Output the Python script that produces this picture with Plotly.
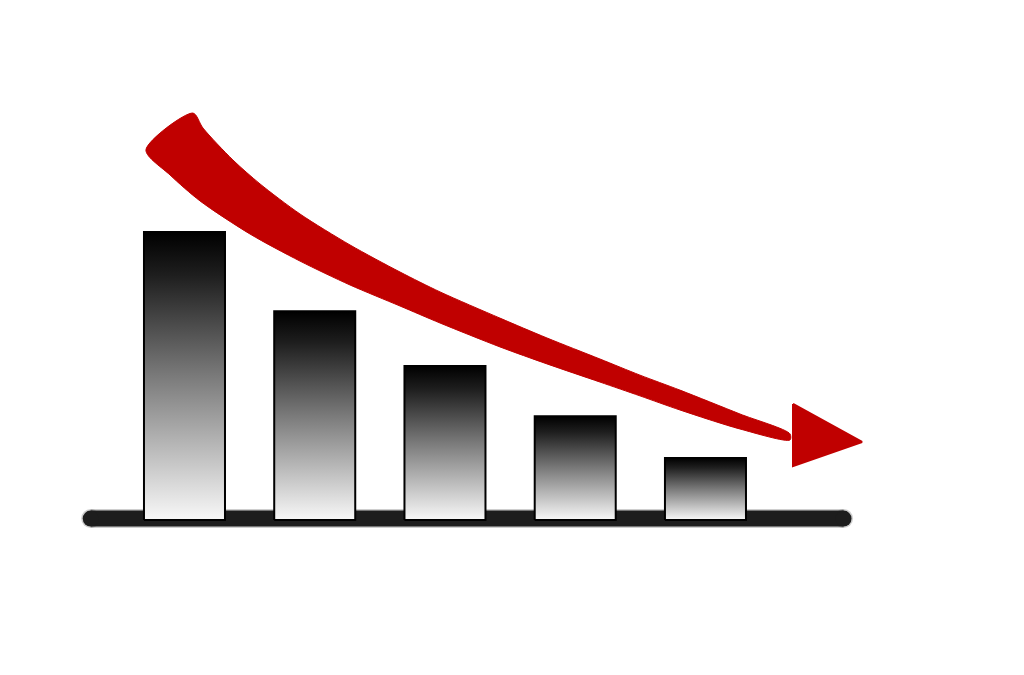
import plotly.graph_objects as go

# ---- data ----
categories = ["A", "B", "C", "D", "E"]
values = [100, 72.5, 53.5, 36, 21.5]

# trend arrow outline, in chart units (category index, value)
arrow_upper_x = [0.065, 0.142, 0.372, 0.580, 0.887, 1.271, 1.655, 1.962, 2.422, 2.783, 3.190, 3.497, 3.804, 4.265, 4.649]
arrow_upper_y = [141.3, 136.1, 125.0, 116.7, 106.25, 95.5, 86.1, 79.2, 70.1, 63.2, 55.9, 50.3, 45.1, 36.8, 29.9]
arrow_lower_x = [-0.296, -0.111, 0.119, 0.503, 0.887, 1.271, 1.655, 1.962, 2.422, 2.783, 3.190, 3.497, 3.804, 4.265, 4.649]
arrow_lower_y = [128.5, 119.8, 110.8, 99.3, 89.9, 81.6, 74.3, 68.4, 60.1, 54.2, 47.9, 43.1, 38.2, 31.6, 27.8]
arrow_head_x = [4.672, 5.202, 4.672]
arrow_head_y = [40.3, 27.1, 18.75]

BAR_HALF = 0.311
fig = go.Figure()

# baseline (soft shadow + solid bar)
base_x0 = -0.72
base_x1 = len(categories) - 1 + 1.06
fig.add_trace(go.Scatter(x=[base_x0, base_x1], y=[0.5, 0.5], mode="lines+markers",
                         line=dict(color="rgba(60,60,60,0.25)", width=19),
                         marker=dict(color="rgba(60,60,60,0.25)", size=19, line=dict(width=0)),
                         hoverinfo="skip", showlegend=False))
fig.add_trace(go.Scatter(x=[base_x0, base_x1], y=[0.5, 0.5], mode="lines+markers",
                         line=dict(color="#1d1d1d", width=16),
                         marker=dict(color="#1d1d1d", size=16, line=dict(width=0)),
                         hoverinfo="skip", showlegend=False))

# gradient bars
for i, (c, v) in enumerate(zip(categories, values)):
    fig.add_trace(go.Scatter(
        x=[i - BAR_HALF, i + BAR_HALF, i + BAR_HALF, i - BAR_HALF, i - BAR_HALF],
        y=[0, 0, v, v, 0],
        mode="lines", fill="toself",
        fillgradient=dict(type="vertical",
                          colorscale=[[0, "#f8f8f8"], [0.5, "#7a7a7a"], [0.85, "#1e1e1e"], [1, "#000000"]]),
        line=dict(color="#000000", width=2),
        name=c, hoverinfo="name", showlegend=False))

# red trend arrow
shaft_x = arrow_upper_x + arrow_lower_x[::-1] + [arrow_upper_x[0]]
shaft_y = arrow_upper_y + arrow_lower_y[::-1] + [arrow_upper_y[0]]
fig.add_trace(go.Scatter(x=shaft_x, y=shaft_y, mode="lines", fill="toself",
                         fillcolor="#c00000", line=dict(color="#c00000", width=1, shape="spline", smoothing=0.8),
                         hoverinfo="skip", showlegend=False))
fig.add_trace(go.Scatter(x=arrow_head_x + [arrow_head_x[0]], y=arrow_head_y + [arrow_head_y[0]],
                         mode="lines", fill="toself", fillcolor="#c00000",
                         line=dict(color="#c00000", width=2),
                         hoverinfo="skip", showlegend=False))

# the page places the figure 8px in from the window edge; ranges compensate
fig.update_layout(
    width=1024, height=675,
    margin=dict(l=0, r=0, t=0, b=0),
    paper_bgcolor="white", plot_bgcolor="white",
    xaxis=dict(range=[-1.355, 6.507], visible=False, fixedrange=True),
    yaxis=dict(range=[-56.6, 177.78], visible=False, fixedrange=True),
    showlegend=False,
)
fig.write_html("out.html")
